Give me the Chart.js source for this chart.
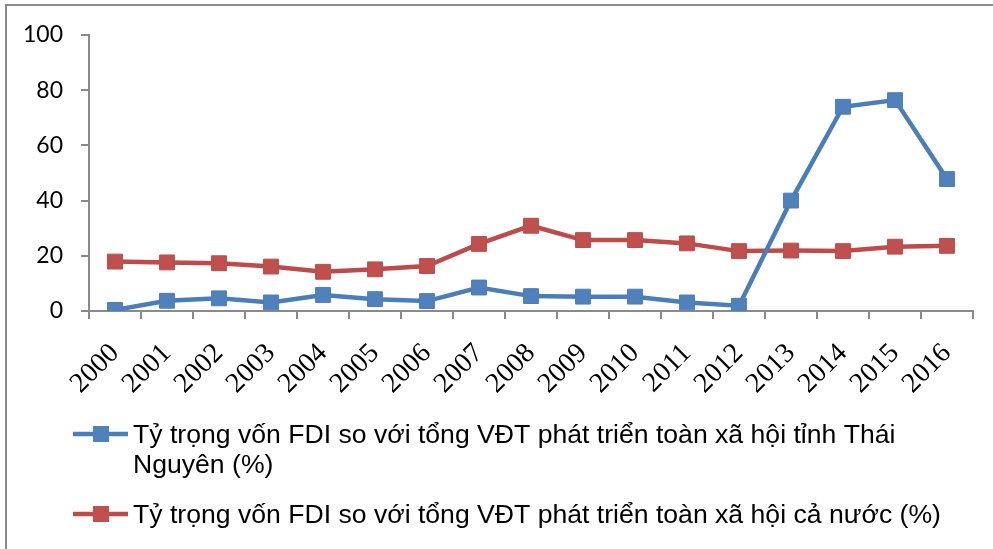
<!DOCTYPE html>
<html>
<head>
<meta charset="utf-8">
<script src="https://cdn.jsdelivr.net/npm/chart.js@4"></script>
<style>
  html, body { margin: 0; padding: 0; background: #fff; }
  #wrap { width: 993px; height: 549px; position: relative; }
</style>
</head>
<body>
<div id="wrap"><canvas id="fdiChart"></canvas></div>
<script>
// Données
const years = ["2000", "2001", "2002", "2003", "2004", "2005", "2006", "2007", "2008",
               "2009", "2010", "2011", "2012", "2013", "2014", "2015", "2016"];
const thaiNguyen = [0.4, 3.7, 4.6, 3.1, 5.8, 4.3, 3.6, 8.5, 5.4, 5.2, 5.2, 3.1, 1.9, 40.0, 74.0, 76.4, 47.8];
const caNuoc = [17.9, 17.6, 17.3, 16.1, 14.2, 15.1, 16.3, 24.3, 30.9, 25.7, 25.7, 24.5, 21.7, 21.9, 21.7, 23.3, 23.6];
const seriesLabels = [
    "Tỷ trọng vốn FDI so với tổng VĐT phát triển toàn xã hội tỉnh Thái Nguyên (%)",
    "Tỷ trọng vốn FDI so với tổng VĐT phát triển toàn xã hội cả nước (%)"
];
const yTicks = [0, 20, 40, 60, 80, 100];

const axisGray = "#8a8a8a";

// Cadre + légende dessinés à la main (texte sur deux lignes)
const framePlugin = {
    id: "frame",
    beforeDraw(chart) {
        const ctx = chart.ctx;
        ctx.save();
        ctx.strokeStyle = "#8c8c8c";
        ctx.lineWidth = 2;
        ctx.beginPath();
        ctx.moveTo(6, 549);
        ctx.lineTo(6, 5);
        ctx.lineTo(993, 5);
        ctx.stroke();
        ctx.restore();
    },
    afterDraw(chart) {
        const ctx = chart.ctx;
        const startY = [434, 514];
        ctx.save();
        ctx.font = "26.6px 'Liberation Sans', Arial, sans-serif";
        ctx.textBaseline = "alphabetic";
        chart.data.datasets.forEach((ds, i) => {
            const y = startY[i];
            ctx.strokeStyle = ds.borderColor;
            ctx.lineWidth = 4.5;
            ctx.beginPath();
            ctx.moveTo(73, y);
            ctx.lineTo(128, y);
            ctx.stroke();
            ctx.fillStyle = ds.pointBackgroundColor;
            ctx.fillRect(93, y - 8, 16, 16);
            // retour à la ligne
            const words = ds.label.split(" ");
            const lines = [];
            let cur = "";
            words.forEach(w => {
                const test = cur ? cur + " " + w : w;
                if (ctx.measureText(test).width > 825 && cur) {
                    lines.push(cur);
                    cur = w;
                } else {
                    cur = test;
                }
            });
            lines.push(cur);
            ctx.fillStyle = "#000";
            lines.forEach((l, k) => ctx.fillText(l, 133, y + 9 + k * 30));
        });
        ctx.restore();
    }
};

new Chart(document.getElementById("fdiChart"), {
    type: "line",
    data: {
        labels: years,
        datasets: [{
            label: seriesLabels[0],
            data: thaiNguyen,
            borderColor: "#4A7EBB",
            backgroundColor: "#4F81BD",
            pointBackgroundColor: "#4F81BD",
            pointBorderColor: "#4A7EBB",
            borderWidth: 4.5,
            pointStyle: "rect",
            pointRadius: 10.5,
            pointBorderWidth: 1,
            tension: 0,
            fill: false,
        }, {
            label: seriesLabels[1],
            data: caNuoc,
            borderColor: "#BE4B48",
            backgroundColor: "#C0504D",
            pointBackgroundColor: "#C0504D",
            pointBorderColor: "#BE4B48",
            borderWidth: 4.5,
            pointStyle: "rect",
            pointRadius: 10.5,
            pointBorderWidth: 1,
            tension: 0,
            fill: false,
        }],
    },
    options: {
        responsive: true,
        maintainAspectRatio: false,
        animation: false,
        layout: { padding: { top: 35, right: 20, bottom: 0, left: 0 } },
        plugins: {
            legend: { display: false },
            tooltip: { enabled: false },
        },
        scales: {
            x: {
                offset: true,
                grid: { offset: true, drawOnChartArea: false, drawTicks: true, tickLength: 8, color: axisGray, lineWidth: 2 },
                border: { color: axisGray, width: 2 },
                ticks: {
                    autoSkip: false,
                    minRotation: 45,
                    maxRotation: 45,
                    padding: 18,
                    color: "#000",
                    font: { family: "'Liberation Serif', 'Times New Roman', serif", size: 28 },
                },
                afterFit(scale) { scale.height = 238; },
            },
            y: {
                min: 0,
                max: 100,
                afterBuildTicks(scale) { scale.ticks = yTicks.map(v => ({ value: v })); },
                grid: { drawOnChartArea: false, drawTicks: true, tickLength: 8, color: axisGray, lineWidth: 2 },
                border: { color: axisGray, width: 2 },
                ticks: {
                    padding: 18,
                    color: "#000",
                    font: { family: "Lato, 'Open Sans', sans-serif", size: 23 },
                },
                afterFit(scale) { scale.width = 89; },
            },
        },
    },
    plugins: [framePlugin],
});
</script>
</body>
</html>
